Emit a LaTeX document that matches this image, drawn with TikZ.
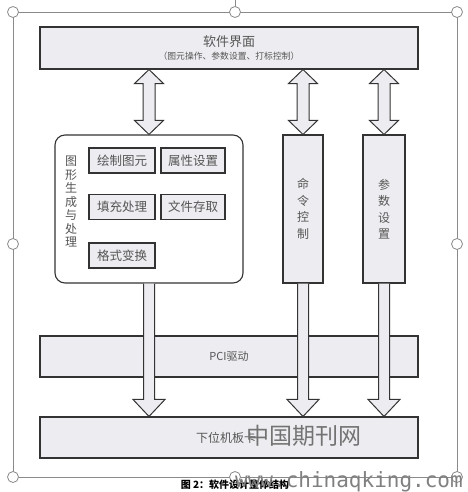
\documentclass[tikz,border=0pt]{standalone}
\usepackage{fontspec}
\setmainfont{Noto Sans CJK SC}
\newfontfamily\wmmono{DejaVu Sans Mono}
\usetikzlibrary{calc}
\definecolor{boxfill}{HTML}{EDEDF1}
\definecolor{txtgray}{HTML}{555555}
\definecolor{framegray}{HTML}{8A8A8A}
\tikzset{
  bx/.style={draw=black!80, line width=1.1pt, fill=boxfill, inner sep=0pt, text=txtgray},
  inbox/.style={bx, minimum height=25pt, font=\fontsize{12.5}{14}\selectfont},
  blockarr/.style={draw=black!80, line width=1pt, fill=boxfill, line join=miter},
  handle/.style={draw=framegray, fill=white, line width=0.8pt},
}
\newcommand\BlkDbl[2]{%
  \filldraw[blockarr] (#1) -- ($(#1)+(14.5,14)$) -- ($(#1)+(6,14)$) -- ($(#2)+(6,-14)$) -- ($(#2)+(14.5,-14)$) -- (#2) -- ($(#2)+(-14.5,-14)$) -- ($(#2)+(-6,-14)$) -- ($(#1)+(-6,14)$) -- ($(#1)+(-14.5,14)$) -- cycle;}
\newcommand\BlkDown[2]{%
  \filldraw[blockarr] ($(#1)+(-5.5,0)$) -- ($(#2)+(-5.5,-17)$) -- ($(#2)+(-16,-17)$) -- (#2) -- ($(#2)+(16,-17)$) -- ($(#2)+(5.5,-17)$) -- ($(#1)+(5.5,0)$);}
\begin{document}
\begin{tikzpicture}[x=1pt,y=-1pt]
\useasboundingbox (0,0) rectangle (467,492);
\fill[white] (0,0) rectangle (467,492);
% selection frame
\draw[framegray, line width=0.8pt] (235,0) -- (235,12);
\draw[framegray, line width=0.8pt] (13,12) rectangle (457,477);
\foreach \p in {(13,12),(235,12),(457,12),(13,244),(457,244),(13,477),(235,477),(457,477)}
  \draw[handle] \p circle (5.5);
% boxes
\node[bx, minimum width=378pt, minimum height=42pt, align=center] (top) at (229,48)
  {{\fontsize{13}{15}\selectfont 软件界面}\\[1pt]{\fontsize{8.8}{10}\selectfont （图元操作、参数设置、打标控制）}};
\node[bx, minimum width=188pt, minimum height=148pt, rounded corners=10pt, fill=white] (gfx) at (149,209) {};
\node[text=txtgray, align=center, font=\fontsize{12}{13.5}\selectfont, inner sep=0pt] (gfxlabel) at (71,202)
  {图\\形\\生\\成\\与\\处\\理};
\node[inbox, minimum width=66pt] (b1) at (122,160.5) {绘制图元};
\node[inbox, minimum width=64pt] (b2) at (193,160.5) {属性设置};
\node[inbox, minimum width=66pt] (b3) at (122,207) {填充处理};
\node[inbox, minimum width=64pt] (b4) at (193,207) {文件存取};
\node[inbox, minimum width=66pt] (b5) at (122,255.5) {格式变换};
\node[bx, minimum width=40pt, minimum height=148pt, align=center, font=\fontsize{12}{16.5}\selectfont] (cmd) at (303,209) {命\\令\\控\\制};
\node[bx, minimum width=42pt, minimum height=148pt, align=center, font=\fontsize{12}{16.5}\selectfont] (par) at (384,209) {参\\数\\设\\置};
\node[bx, minimum width=378pt, minimum height=41pt, font=\fontsize{11}{13}\selectfont] (pci) at (229,356.5) {PCI驱动};
\node[bx, minimum width=378pt, minimum height=41pt] (bot) at (229,437.5) {};
\node[text=txtgray, font=\fontsize{12}{14}\selectfont, inner sep=0pt] (botlabel) at (226,437.5) {下位机板卡};
% arrows
\BlkDbl{top.south -| gfx.north}{gfx.north}
\BlkDbl{top.south -| cmd.north}{cmd.north}
\BlkDbl{top.south -| par.north}{par.north}
\BlkDown{gfx.south}{bot.north -| gfx.south}
\BlkDown{cmd.south}{bot.north -| cmd.south}
\BlkDown{par.south}{bot.north -| par.south}
% caption
\node[font=\fontsize{10}{12}\selectfont\bfseries, inner sep=0pt] (cap) at (235,485) {图 2：软件设计整体结构};
% watermarks
\node[text=black!55, font=\fontsize{23}{25}\selectfont, inner sep=0pt] (wm1) at (304,436) {中国期刊网};
\node[text=black!50, font=\wmmono\fontsize{21}{23}\selectfont, inner sep=0pt, anchor=west] (wm2) at (235,482) {www.chinaqking.com};
\end{tikzpicture}
\end{document}
